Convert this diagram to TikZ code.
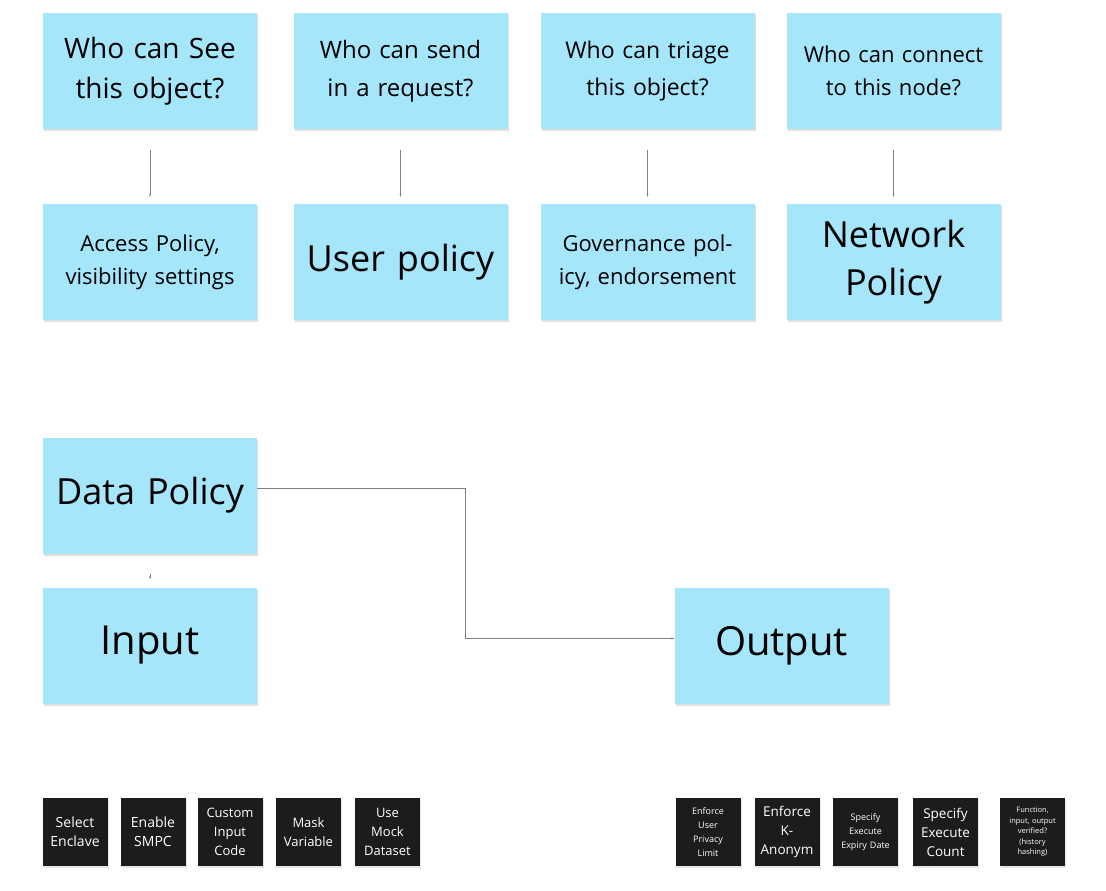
\documentclass[tikz,border=0pt]{standalone}
\usepackage{fontspec}
\setmainfont{Open Sans}
\usetikzlibrary{shadows,arrows.meta}
\definecolor{sticky}{HTML}{A6E6FB}
\definecolor{tag}{HTML}{1C1C1C}
\tikzset{
	note/.style={fill=sticky, minimum width=214pt, minimum height=116pt, text width=190pt, align=center, inner sep=0pt,
		drop shadow={shadow xshift=1pt, shadow yshift=-2pt, opacity=0.25}},
	chip/.style={fill=tag, text=white, minimum width=65pt, minimum height=68pt, text width=62pt, align=center, inner sep=0pt,
		font=\fontsize{14}{19}\selectfont, drop shadow={shadow xshift=1pt, shadow yshift=-2pt, opacity=0.2}},
	link/.style={draw=gray, line width=0.5pt, -{Stealth[length=3pt,width=2pt]}}
}
\begin{document}
\begin{tikzpicture}[x=1pt, y=-1pt]
	\useasboundingbox (0,0) rectangle (1106,891);
	% questions
	\node[note, font=\fontsize{28}{40}\selectfont] (see) at (150,71) {Who can See this object?};
	\node[note, font=\fontsize{24}{38}\selectfont] (send) at (400.5,71) {Who can send in a request?};
	\node[note, font=\fontsize{23}{37}\selectfont] (triage) at (647.5,71) {Who can triage this object?};
	\node[note, font=\fontsize{22}{33}\selectfont] (connect) at (893.5,71) {Who can connect to this node?};
	% policies
	\node[note, font=\fontsize{22}{33}\selectfont] (access) at (150,262) {Access Policy,\\visibility settings};
	\node[note, font=\fontsize{36}{48}\selectfont] (user) at (400.5,262) {User policy};
	\node[note, font=\fontsize{22}{33}\selectfont] (gov) at (647.5,262) {Governance policy, endorsement};
	\node[note, font=\fontsize{36}{48}\selectfont] (net) at (893.5,262) {Network\\Policy};
	\foreach \a/\b in {see/access, send/user, triage/gov, connect/net}
		\draw[link, shorten <=21pt, shorten >=7pt] (\a) -- (\b);

	\node[note, font=\fontsize{36}{48}\selectfont] (data) at (150,495.5) {Data Policy};
	\node[note, font=\fontsize{40}{50}\selectfont] (input) at (150,645.5) {Input};
	\node[note, font=\fontsize{40}{50}\selectfont] (output) at (781.5,645.5) {Output};
	\draw[link, shorten <=20pt, shorten >=8pt] (data) -- (input);
	\draw[link] ([yshift=7pt]data.east) -- ++(208,0) |- ([yshift=7pt]output.west);

	% input options
	\node[chip] (enclave) at (75,832) {Select\\Enclave};
	\node[chip] (smpc) at (153,832) {Enable\\SMPC};
	\node[chip, font=\fontsize{13}{19}\selectfont] (custom) at (230,832) {Custom\\Input\\Code};
	\node[chip, font=\fontsize{13}{19}\selectfont] (mask) at (308.5,832) {Mask\\Variable};
	\node[chip, font=\fontsize{13}{19}\selectfont] (mock) at (387.5,832) {Use\\Mock\\Dataset};
	% output options
	\node[chip, font=\fontsize{9}{14}\selectfont] (privacy) at (708,832) {Enforce\\User\\Privacy\\Limit};
	\node[chip, font=\fontsize{13.5}{19}\selectfont] (kanon) at (787,832) {Enforce\\K-\\Anonym};
	\node[chip, font=\fontsize{9}{14}\selectfont] (expiry) at (865.5,832) {Specify\\Execute\\Expiry Date};
	\node[chip, font=\fontsize{13.5}{19}\selectfont] (count) at (945.5,832) {Specify\\Execute\\Count};
	\node[chip, font=\fontsize{7.5}{10.5}\selectfont] (verify) at (1032.5,832) {Function,\\input, output\\verified?\\(history\\hashing)};
\end{tikzpicture}
\end{document}
